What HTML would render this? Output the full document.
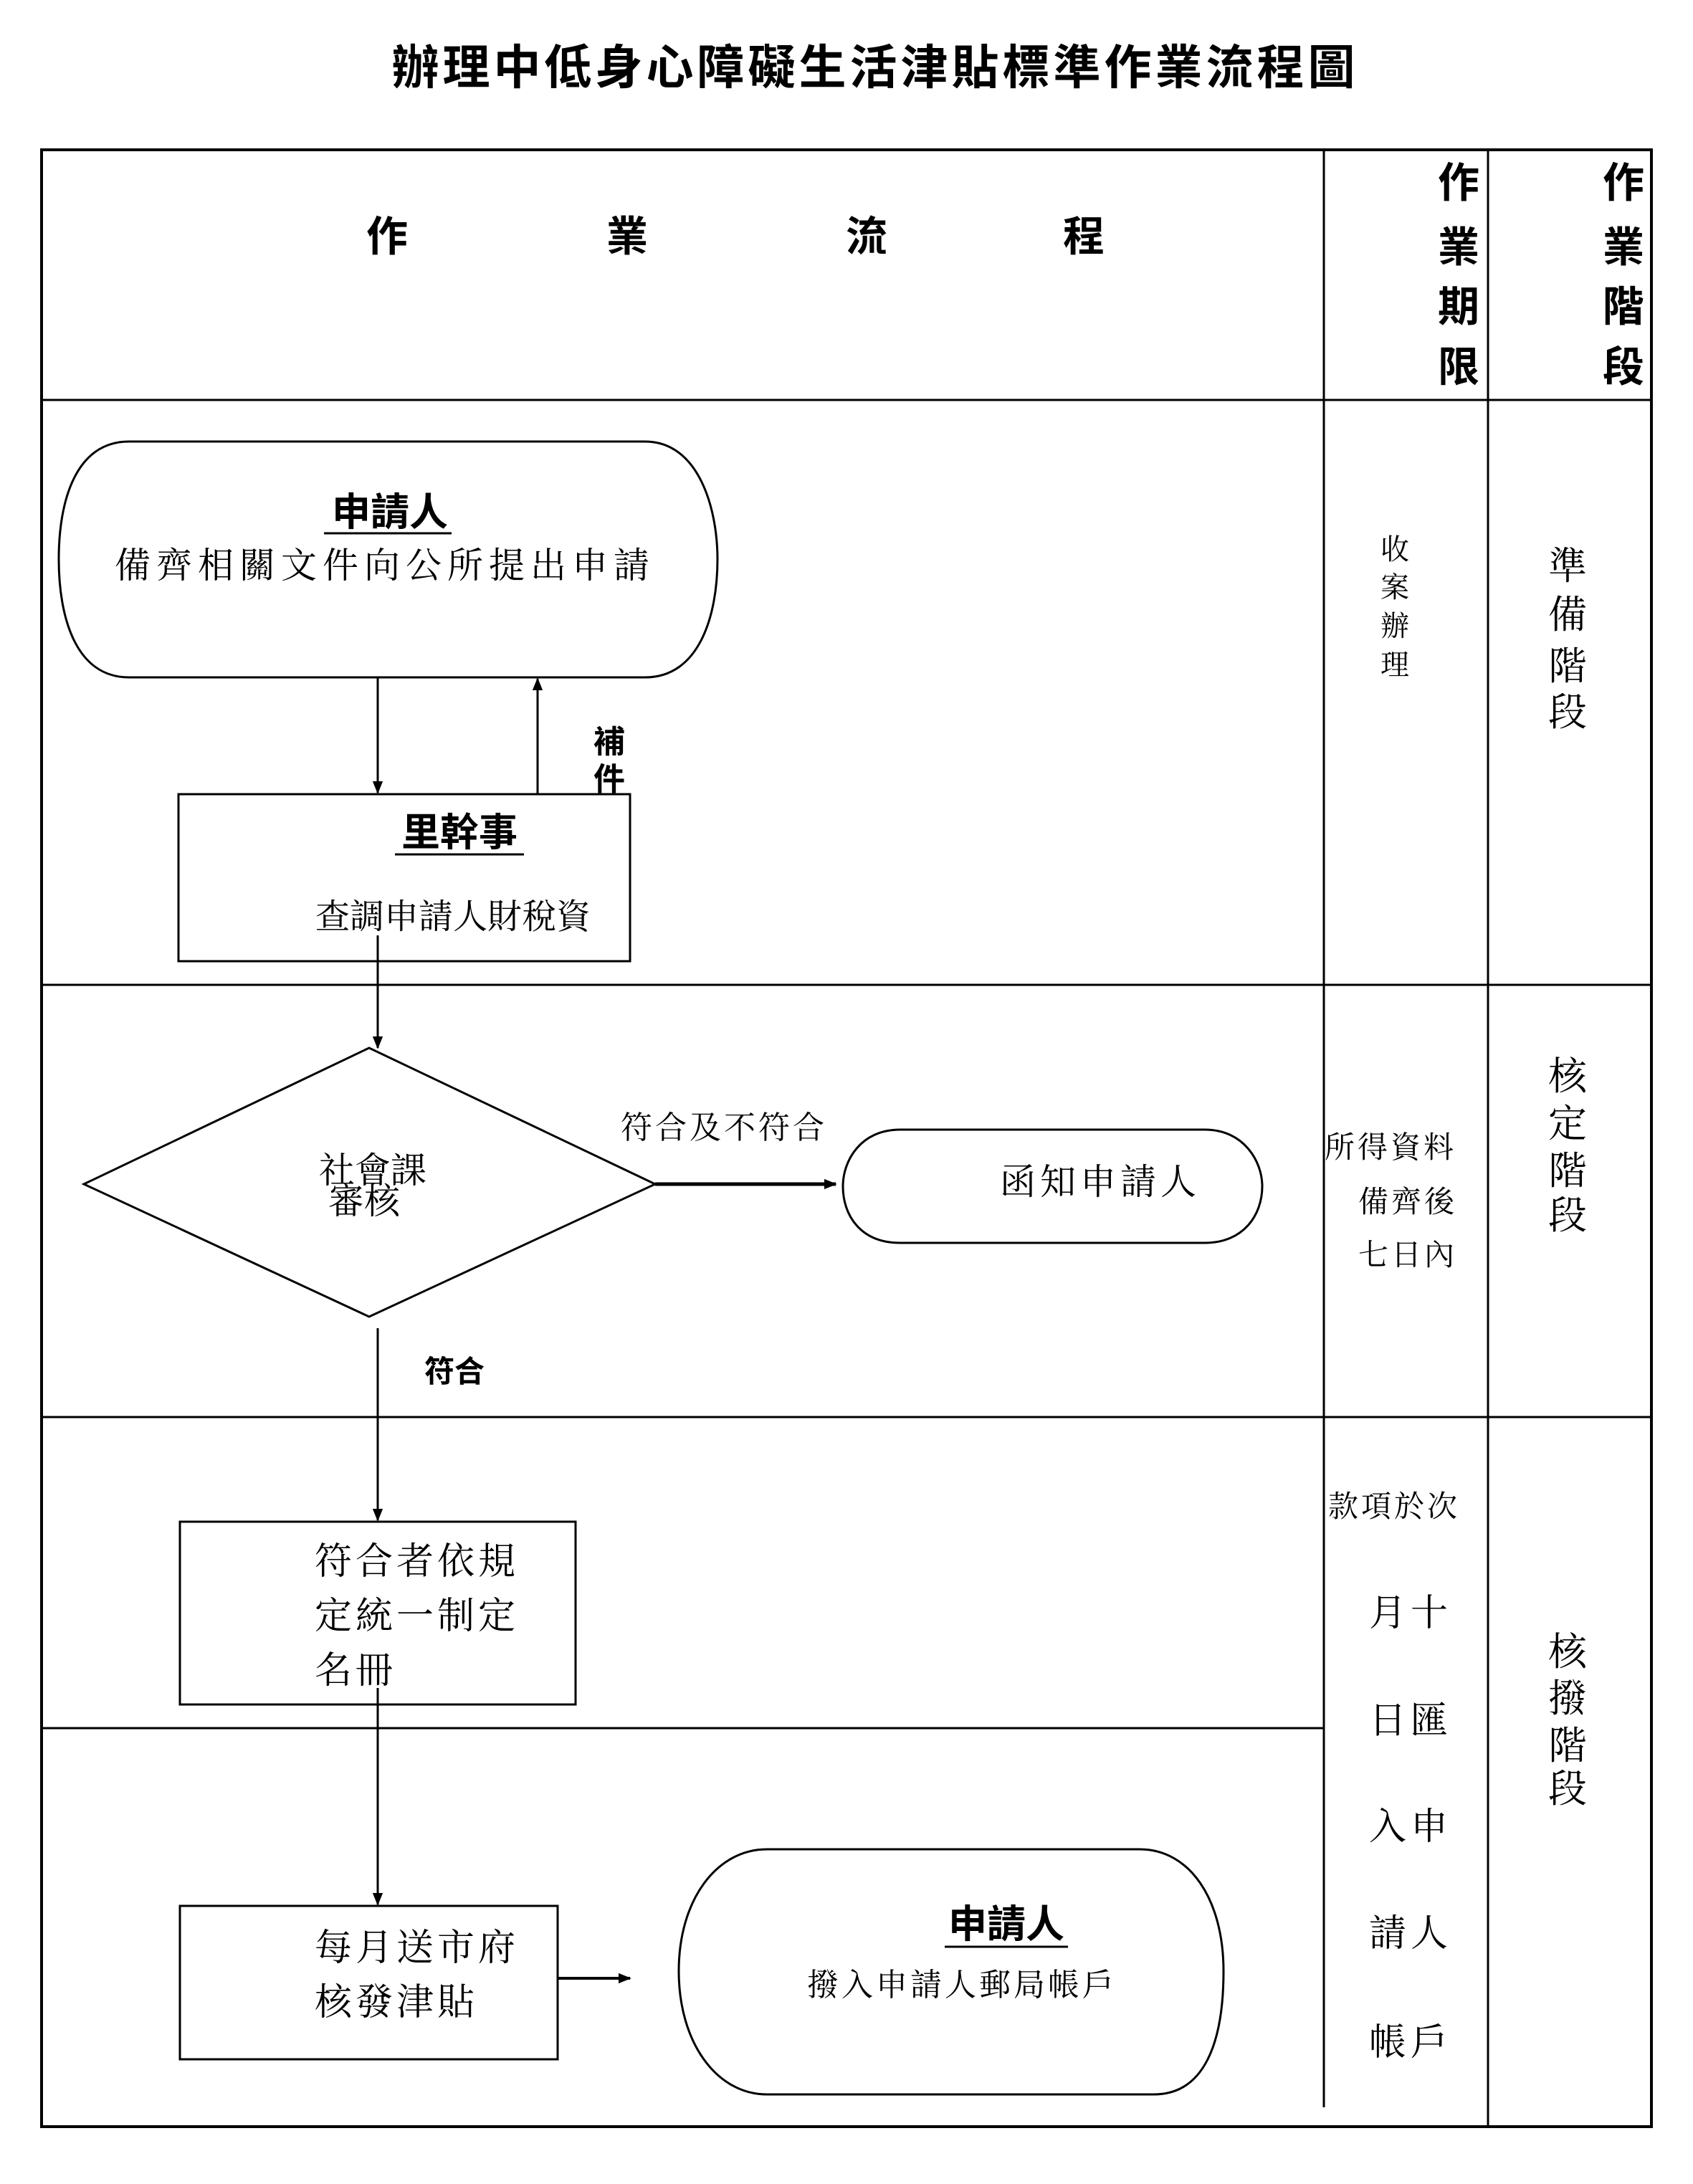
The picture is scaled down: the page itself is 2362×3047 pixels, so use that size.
<!DOCTYPE html>
<html><head><meta charset="utf-8">
<style>
html,body{margin:0;padding:0;background:#fff;}
svg{display:block;}
.s{font-family:"Liberation Serif","Noto Serif CJK SC","Noto Sans CJK TC",serif;fill:#000;}
.b{font-family:"Liberation Sans","Noto Sans CJK TC",sans-serif;font-weight:bold;fill:#000;}
</style></head><body>
<svg width="2362" height="3047" viewBox="0 0 2362 3047" xmlns="http://www.w3.org/2000/svg">
<defs>
<marker id="A" viewBox="0 0 10 10" refX="9" refY="5" markerWidth="18" markerHeight="18" orient="auto" markerUnits="userSpaceOnUse">
<path d="M0,1 L10,5 L0,9 z" fill="#000"/></marker>
</defs>
<text class="b" x="1221" y="117" font-size="66" text-anchor="middle" letter-spacing="5">辦理中低身心障礙生活津貼標準作業流程圖</text>

<g stroke="#000" fill="none" stroke-width="3">
<rect x="58" y="209" width="2246" height="2758" stroke-width="4"/>
<line x1="58" y1="558" x2="2304" y2="558"/>
<line x1="1847" y1="209" x2="1847" y2="2940"/>
<line x1="2076" y1="209" x2="2076" y2="2967"/>
<line x1="58" y1="1374" x2="2304" y2="1374"/>
<line x1="58" y1="1977" x2="2304" y2="1977"/>
<line x1="58" y1="2411" x2="1847" y2="2411"/>
</g>

<g class="b" font-size="58" text-anchor="middle">
<text x="540" y="350">作</text><text x="875" y="350">業</text><text x="1209" y="350">流</text><text x="1512" y="350">程</text>
<text x="2035" y="275">作</text><text x="2035" y="365">業</text><text x="2035" y="448">期</text><text x="2035" y="532">限</text>
<text x="2265" y="275">作</text><text x="2265" y="365">業</text><text x="2265" y="448">階</text><text x="2265" y="532">段</text>
</g>

<g stroke="#000" fill="none" stroke-width="3">
<path d="M180,616 H900 C975,616 1001,710 1001,780 C1001,860 975,945 900,945 H180 C105,945 82,860 82,780 C82,700 105,616 180,616 Z"/>
<line x1="527" y1="945" x2="527" y2="1106" marker-end="url(#A)"/>
<line x1="750" y1="1108" x2="750" y2="947" marker-end="url(#A)"/>
<rect x="249" y="1108" width="630" height="233"/>
<line x1="527" y1="1305" x2="527" y2="1462" marker-end="url(#A)"/>
<path d="M117,1652 L515,1462 L914,1652 L515,1837 Z"/>
<line x1="914" y1="1652" x2="1166" y2="1652" stroke-width="5" marker-end="url(#A)"/>
<path d="M1256,1576 H1681 C1735,1576 1761,1620 1761,1655 C1761,1695 1735,1734 1681,1734 H1256 C1200,1734 1176,1695 1176,1655 C1176,1620 1200,1576 1256,1576 Z"/>
<line x1="527" y1="1853" x2="527" y2="2121" marker-end="url(#A)"/>
<rect x="251" y="2123" width="552" height="255"/>
<line x1="527" y1="2355" x2="527" y2="2657" marker-end="url(#A)"/>
<rect x="251" y="2659" width="527" height="214"/>
<line x1="778" y1="2760" x2="879" y2="2760" stroke-width="4" marker-end="url(#A)"/>
<path d="M1070,2580 H1590 C1660,2580 1707,2650 1707,2750 C1707,2850 1680,2922 1610,2922 H1070 C1000,2922 947,2850 947,2750 C947,2650 1000,2580 1070,2580 Z"/>
</g>

<text class="b" x="544" y="733" font-size="54" text-anchor="middle">申請人</text>
<line x1="452" y1="744" x2="630" y2="744" stroke="#000" stroke-width="3"/>
<text class="s" x="537" y="806" font-size="50" text-anchor="middle" letter-spacing="8">備齊相關文件向公所提出申請</text>
<text class="b" x="850" y="1050" font-size="44" text-anchor="middle">補</text>
<text class="b" x="850" y="1102" font-size="44" text-anchor="middle">件</text>
<text class="b" x="641" y="1180" font-size="54" text-anchor="middle">里幹事</text>
<line x1="551" y1="1192" x2="731" y2="1192" stroke="#000" stroke-width="3"/>
<text class="s" x="632" y="1295" font-size="48" text-anchor="middle">查調申請人財稅資</text>
<text class="s" x="520" y="1650" font-size="50" text-anchor="middle">社會課</text>
<text class="s" x="508" y="1693" font-size="50" text-anchor="middle">審核</text>
<text class="s" x="1010" y="1588" font-size="44" text-anchor="middle" letter-spacing="4">符合及不符合</text>
<text class="s" x="1535" y="1666" font-size="50" text-anchor="middle" letter-spacing="6">函知申請人</text>
<text class="b" x="634" y="1928" font-size="42" text-anchor="middle">符合</text>
<g class="s" font-size="52" letter-spacing="5">
<text x="439" y="2196">符合者依規</text>
<text x="439" y="2272">定統一制定</text>
<text x="439" y="2348">名冊</text>
<text x="439" y="2735">每月送市府</text>
<text x="439" y="2811">核發津貼</text>
</g>
<text class="b" x="1404" y="2703" font-size="54" text-anchor="middle">申請人</text>
<line x1="1318" y1="2716" x2="1490" y2="2716" stroke="#000" stroke-width="3"/>
<text class="s" x="1342" y="2784" font-size="44" text-anchor="middle" letter-spacing="4">撥入申請人郵局帳戶</text>

<g class="s" font-size="40" text-anchor="middle">
<text x="1946" y="780">收</text><text x="1946" y="833">案</text><text x="1946" y="887">辦</text><text x="1946" y="941">理</text>
</g>
<g class="s" font-size="54" text-anchor="middle">
<text x="2187" y="808">準</text><text x="2187" y="876">備</text><text x="2187" y="948">階</text><text x="2187" y="1012">段</text>
<text x="2187" y="1520">核</text><text x="2187" y="1586">定</text><text x="2187" y="1652">階</text><text x="2187" y="1714">段</text>
<text x="2187" y="2323">核</text><text x="2187" y="2388">撥</text><text x="2187" y="2454">階</text><text x="2187" y="2514">段</text>
</g>
<g class="s" font-size="42" letter-spacing="4">
<text x="1848" y="1615">所得資料</text>
<text x="1895" y="1691">備齊後</text>
<text x="1895" y="1765">七日內</text>
<text x="1853" y="2116">款項於次</text>
</g>
<g class="s" font-size="52" text-anchor="middle" letter-spacing="6">
<text x="1968" y="2268">月十</text>
<text x="1968" y="2418">日匯</text>
<text x="1968" y="2566">入申</text>
<text x="1968" y="2715">請人</text>
<text x="1968" y="2867">帳戶</text>
</g>
</svg>
</body></html>
